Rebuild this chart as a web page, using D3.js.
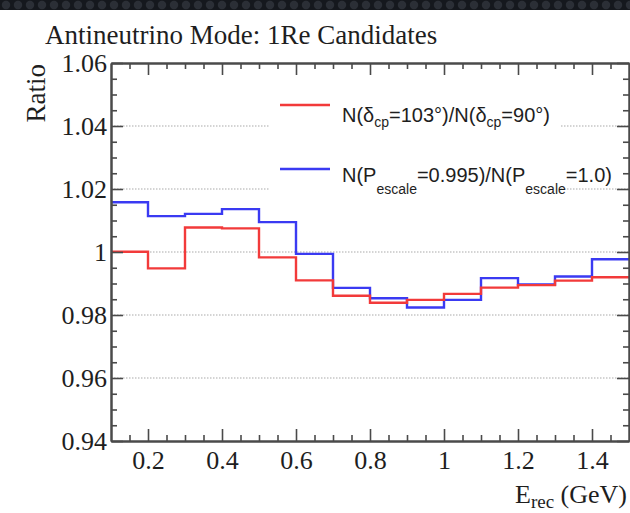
<!DOCTYPE html>
<html>
<head>
<meta charset="utf-8">
<script src="https://cdn.jsdelivr.net/npm/d3@7"></script>
<style>
  body { margin: 0; background: #fff; }
  svg { display: block; }
</style>
</head>
<body>
<div id="chart"></div>
<script>
const WIDTH = 630;
const HEIGHT = 513;

// bin edges (GeV) and ratio per bin
const binEdges = [0.1, 0.2, 0.3, 0.4, 0.5, 0.6, 0.7, 0.8, 0.9, 1.0, 1.1, 1.2, 1.3, 1.4, 1.5];
const deltaCpRatio = [1.0001, 0.9948, 1.0078, 1.0075, 0.9983, 0.9910, 0.9861, 0.9839, 0.9848, 0.9867, 0.9887, 0.9895, 0.9909, 0.9920];
const escaleRatio = [1.0158, 1.0114, 1.0121, 1.0136, 1.0095, 0.9994, 0.9886, 0.9853, 0.9824, 0.9848, 0.9917, 0.9897, 0.9922, 0.9977];

const xMajor = [0.2, 0.4, 0.6, 0.8, 1.0, 1.2, 1.4];
const xMinor = [0.15, 0.25, 0.3, 0.35, 0.45, 0.5, 0.55, 0.65, 0.7, 0.75, 0.85, 0.9, 0.95, 1.05, 1.1, 1.15, 1.25, 1.3, 1.35, 1.45];
const yMajor = [0.94, 0.96, 0.98, 1.0, 1.02, 1.04, 1.06];
const yMinor = [0.945, 0.95, 0.955, 0.965, 0.97, 0.975, 0.985, 0.99, 0.995, 1.005, 1.01, 1.015, 1.025, 1.03, 1.035, 1.045, 1.05, 1.055];
const yGrid = [0.96, 0.98, 1.0, 1.02, 1.04];

const SERIF = "'Liberation Serif', 'DejaVu Serif', serif";
const SANS = "'Liberation Sans', Arial, sans-serif";
const AXIS_COLOR = "#4a4a4a";
const TEXT_COLOR = "#1e1e1e";
const RED = "#f23a3a";
const BLUE = "#3a3af2";

const plot = {left: 111, right: 629, top: 63, bottom: 441};

let svg = d3.select("#chart")
    .append("svg")
    .attr("width", WIDTH)
    .attr("height", HEIGHT);

// dark strip at the top of the picture
let defs = svg.append("defs");
let pat = defs.append("pattern")
    .attr("id", "mesh")
    .attr("width", 12)
    .attr("height", 10)
    .attr("patternUnits", "userSpaceOnUse");
pat.append("rect").attr("width", 12).attr("height", 10).attr("fill", "#15181d");
pat.append("circle").attr("cx", 6).attr("cy", 5).attr("r", 4.2).attr("fill", "#2b2f36");
svg.append("rect")
    .attr("x", 0).attr("y", 0)
    .attr("width", WIDTH).attr("height", 10)
    .attr("fill", "url(#mesh)");

let x = d3.scaleLinear().domain([0.1, 1.5]).range([plot.left, plot.right]);
let y = d3.scaleLinear().domain([0.94, 1.06]).range([plot.bottom, plot.top]);

// grid lines
svg.append("g")
    .selectAll("line")
    .data(yGrid)
    .join("line")
    .attr("x1", plot.left)
    .attr("x2", plot.right)
    .attr("y1", d => y(d))
    .attr("y2", d => y(d))
    .attr("stroke", "#aaa")
    .attr("stroke-width", 1.2)
    .attr("stroke-dasharray", "1.5,1.5");

// legend background hides the grid under it
svg.append("rect")
    .attr("x", 270).attr("y", 80)
    .attr("width", 291).attr("height", 122)
    .attr("fill", "#fff");

// histograms
let step = d3.line()
    .x(d => x(d[0]))
    .y(d => y(d[1]))
    .curve(d3.curveStepAfter);

function histPoints(vals) {
    let pts = vals.map((v, i) => [binEdges[i], v]);
    pts.push([binEdges[binEdges.length - 1], vals[vals.length - 1]]);
    return pts;
}

svg.append("path")
    .attr("d", step(histPoints(escaleRatio)))
    .attr("fill", "none")
    .attr("stroke", BLUE)
    .attr("stroke-width", 2.4);

svg.append("path")
    .attr("d", step(histPoints(deltaCpRatio)))
    .attr("fill", "none")
    .attr("stroke", RED)
    .attr("stroke-width", 2.4);

// axes
function styleAxis(g) {
    g.select(".domain").attr("stroke", AXIS_COLOR).attr("stroke-width", 2);
    g.selectAll(".tick line").attr("stroke", AXIS_COLOR).attr("stroke-width", 1.6);
}

let bottomMajor = svg.append("g")
    .attr("transform", `translate(0,${plot.bottom})`)
    .call(d3.axisBottom(x).tickValues(xMajor).tickSizeInner(-12).tickSizeOuter(0).tickPadding(10)
        .tickFormat(d => d3.format("")(+d.toFixed(1))));
styleAxis(bottomMajor);
bottomMajor.selectAll("text")
    .attr("font-family", SERIF)
    .attr("font-size", 26)
    .attr("fill", TEXT_COLOR);

let bottomMinor = svg.append("g")
    .attr("transform", `translate(0,${plot.bottom})`)
    .call(d3.axisBottom(x).tickValues(xMinor).tickSizeInner(-6).tickSizeOuter(0).tickFormat(""));
styleAxis(bottomMinor);

let topMajor = svg.append("g")
    .attr("transform", `translate(0,${plot.top})`)
    .call(d3.axisTop(x).tickValues(xMajor).tickSizeInner(-12).tickSizeOuter(0).tickFormat(""));
styleAxis(topMajor);
let topMinor = svg.append("g")
    .attr("transform", `translate(0,${plot.top})`)
    .call(d3.axisTop(x).tickValues(xMinor).tickSizeInner(-6).tickSizeOuter(0).tickFormat(""));
styleAxis(topMinor);

let leftMajor = svg.append("g")
    .attr("transform", `translate(${plot.left},0)`)
    .call(d3.axisLeft(y).tickValues(yMajor).tickSizeInner(-12).tickSizeOuter(0).tickPadding(4)
        .tickFormat(d => d3.format("")(+d.toFixed(2))));
styleAxis(leftMajor);
leftMajor.selectAll("text")
    .attr("font-family", SERIF)
    .attr("font-size", 26)
    .attr("fill", TEXT_COLOR);

let leftMinor = svg.append("g")
    .attr("transform", `translate(${plot.left},0)`)
    .call(d3.axisLeft(y).tickValues(yMinor).tickSizeInner(-6).tickSizeOuter(0).tickFormat(""));
styleAxis(leftMinor);

let rightMajor = svg.append("g")
    .attr("transform", `translate(${plot.right},0)`)
    .call(d3.axisRight(y).tickValues(yMajor).tickSizeInner(-12).tickSizeOuter(0).tickFormat(""));
styleAxis(rightMajor);
let rightMinor = svg.append("g")
    .attr("transform", `translate(${plot.right},0)`)
    .call(d3.axisRight(y).tickValues(yMinor).tickSizeInner(-6).tickSizeOuter(0).tickFormat(""));
styleAxis(rightMinor);

// titles
svg.append("text")
    .attr("x", 45)
    .attr("y", 44)
    .attr("font-family", SERIF)
    .attr("font-size", 27)
    .attr("fill", TEXT_COLOR)
    .text("Antineutrino Mode: 1Re Candidates");

svg.append("text")
    .attr("transform", "translate(45,64) rotate(-90)")
    .attr("text-anchor", "end")
    .attr("font-family", SERIF)
    .attr("font-size", 27)
    .attr("fill", TEXT_COLOR)
    .text("Ratio");

let xTitle = svg.append("text")
    .attr("x", 627)
    .attr("y", 503)
    .attr("text-anchor", "end")
    .attr("font-family", SERIF)
    .attr("font-size", 26)
    .attr("fill", TEXT_COLOR);
xTitle.append("tspan").text("E");
xTitle.append("tspan").attr("font-size", 19).attr("dy", 5).text("rec");
xTitle.append("tspan").attr("dy", -5).text(" (GeV)");

// legend
const legendItems = [
    {color: RED, y: 105, base: 17, sub: 5, parts: [["N(δ", 0], ["cp", 1], ["=103°)/N(δ", 0], ["cp", 1], ["=90°)", 0]]},
    {color: BLUE, y: 169, base: 13, sub: 12, parts: [["N(P", 0], ["escale", 1], ["=0.995)/N(P", 0], ["escale", 1], ["=1.0)", 0]]}
];

legendItems.forEach(item => {
    svg.append("line")
        .attr("x1", 280).attr("x2", 330)
        .attr("y1", item.y).attr("y2", item.y)
        .attr("stroke", item.color)
        .attr("stroke-width", 2.4);
    let t = svg.append("text")
        .attr("x", 342)
        .attr("y", item.y + item.base)
        .attr("font-family", SANS)
        .attr("font-size", 20)
        .attr("fill", TEXT_COLOR);
    let low = false;
    item.parts.forEach(p => {
        let sp = t.append("tspan").text(p[0]);
        if (p[1] && !low) {
            sp.attr("dy", item.sub).attr("font-size", 14);
            low = true;
        } else if (!p[1] && low) {
            sp.attr("dy", -item.sub);
            low = false;
        }
    });
});
</script>
</body>
</html>
